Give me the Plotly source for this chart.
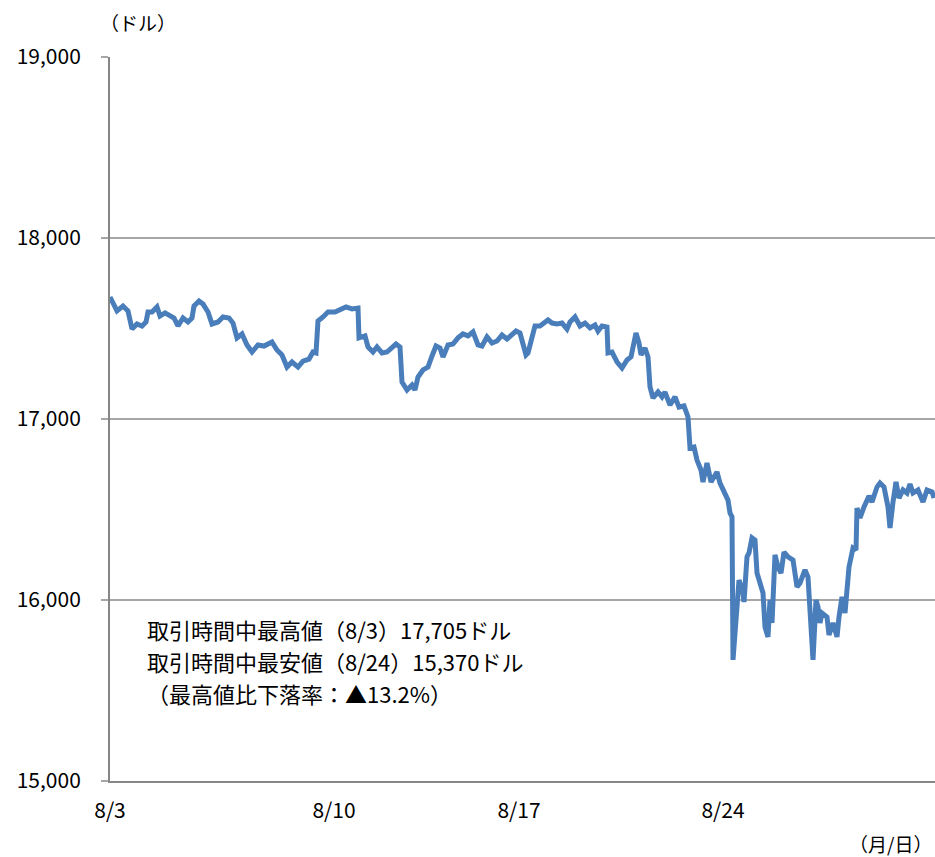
import plotly.graph_objects as go

# Intraday sample number (bar) across the August sessions and the index level at each bar
bars = [0, 7, 13, 18, 22, 27, 32, 36, 38, 42, 47, 50, 55, 60, 64, 68, 73, 78, 82, 84,
        89, 93, 98, 102, 108, 113, 119, 123, 127, 132, 137, 142, 148, 154, 162, 167, 172, 177, 182, 188,
        193, 199, 203, 206, 208, 213, 218, 225, 230, 236, 242, 248, 249, 255, 258, 263, 267, 272, 277, 281,
        286, 290, 292, 297, 302, 305, 308, 313, 318, 322, 326, 330, 333, 338, 343, 348, 353, 358, 363, 368,
        372, 377, 382, 387, 392, 397, 402, 406, 410, 416, 418, 422, 425, 430, 433, 438, 442, 447, 452, 457,
        460, 465, 470, 475, 480, 485, 488, 492, 497, 498, 502, 507, 512, 517, 521, 523, 526, 529, 531, 535,
        538, 540, 543, 548, 552, 555, 560, 565, 569, 574, 578, 580, 584, 587, 591, 593, 597, 601, 607, 610,
        615, 618, 620, 622, 623, 627, 629, 633, 634, 637, 639, 642, 645, 647, 650, 653, 655, 658, 660, 662,
        665, 668, 671, 674, 678, 683, 687, 690, 695, 698, 701, 703, 706, 708, 710, 712, 717, 719, 723, 727,
        729, 732, 735, 739, 743, 746, 747, 750, 754, 759, 762, 767, 770, 774, 778, 780, 783, 786, 789, 793,
        797, 800, 803, 808, 813, 817, 822, 824]
dow = [17674, 17597, 17624, 17597, 17497, 17525, 17514, 17536, 17591, 17591, 17619, 17569, 17586, 17569, 17558, 17514, 17558, 17536, 17558, 17624,
       17652, 17635, 17591, 17525, 17536, 17564, 17558, 17530, 17448, 17470, 17409, 17370, 17409, 17403, 17425, 17381, 17354, 17287, 17315, 17287,
       17320, 17331, 17370, 17365, 17541, 17564, 17591, 17591, 17602, 17619, 17608, 17613, 17448, 17459, 17398, 17370, 17398, 17365, 17370, 17392,
       17414, 17398, 17204, 17160, 17188, 17160, 17232, 17271, 17287, 17348, 17403, 17392, 17343, 17409, 17414, 17448, 17470, 17459, 17481, 17409,
       17403, 17453, 17420, 17431, 17464, 17442, 17464, 17486, 17475, 17354, 17365, 17453, 17514, 17514, 17525, 17547, 17530, 17525, 17530, 17497,
       17536, 17564, 17514, 17530, 17503, 17519, 17486, 17514, 17508, 17365, 17370, 17315, 17282, 17326, 17343, 17387, 17475, 17420, 17354, 17392,
       17343, 17177, 17116, 17149, 17122, 17149, 17077, 17122, 17066, 17072, 17011, 16840, 16845, 16773, 16718, 16652, 16757, 16652, 16707, 16646,
       16591, 16552, 16481, 16459, 15669, 16000, 16110, 16039, 15989, 16238, 16260, 16343, 16331, 16149, 16094, 16039, 15851, 15796, 16000, 15873,
       16249, 16182, 16149, 16265, 16238, 16221, 16072, 16094, 16166, 16127, 15851, 15669, 16000, 15961, 15873, 15928, 15906, 15807, 15873, 15796,
       15906, 16017, 15928, 16182, 16287, 16276, 16508, 16453, 16514, 16575, 16541, 16624, 16646, 16624, 16514, 16398, 16541, 16652, 16563, 16608,
       16591, 16641, 16591, 16608, 16541, 16608, 16597, 16563]

# Week labels on the time axis
tick_bars = [0, 224, 409, 613]
tick_text = ["8/3", "8/10", "8/17", "8/24"]

# Summary figures
high_date, high_val = "8/3", 17705
low_date, low_val = "8/24", 15370
drop_pct = 13.2

FONT = "Noto Sans CJK JP"
GRID = "#a6a6a6"
AXIS = "#868686"

fig = go.Figure()
fig.add_trace(go.Scatter(
    x=bars, y=dow, mode="lines",
    line=dict(color="#4a7ebb", width=5),
    hoverinfo="skip", showlegend=False,
))

note_lines = [
    f"取引時間中最高値（{high_date}）{high_val:,}ドル",
    f"取引時間中最安値（{low_date}）{low_val:,}ドル",
    f"（最高値比下落率：▲{drop_pct}%）",
]
note_y = [0.2099, 0.1657, 0.1215]

annotations = [
    dict(text="（ドル）", xref="paper", yref="paper", x=0.034, y=1.047,
         xanchor="center", yanchor="middle", showarrow=False,
         font=dict(size=19)),
    dict(text="（月/日）", xref="paper", yref="paper", x=0.999, y=-0.086,
         xanchor="right", yanchor="middle", showarrow=False,
         font=dict(size=19)),
]
for txt, yy in zip(note_lines, note_y):
    annotations.append(dict(
        text=txt, xref="paper", yref="paper", x=0.043, y=yy,
        xanchor="left", yanchor="middle", align="left", showarrow=False,
        font=dict(size=22)))

fig.update_layout(
    width=935, height=857,
    margin=dict(l=110, r=0, t=57, b=76),
    paper_bgcolor="white", plot_bgcolor="white",
    font=dict(family=FONT, color="black", size=21),
    xaxis=dict(
        range=[0, 825], tickvals=tick_bars, ticktext=tick_text,
        showgrid=False, zeroline=False,
        showline=True, linecolor=AXIS, linewidth=2,
        ticks="", ticklabelstandoff=10,
        tickfont=dict(size=21),
    ),
    yaxis=dict(
        range=[15000, 19000], dtick=1000, tickformat=",d",
        showgrid=True, gridcolor=GRID, gridwidth=2,
        zeroline=False,
        showline=True, linecolor=AXIS, linewidth=2,
        ticks="outside", ticklen=7, tickcolor=GRID, tickwidth=2,
        ticklabelstandoff=16,
        tickfont=dict(size=21),
    ),
    annotations=annotations,
)

fig.write_html("out.html")
